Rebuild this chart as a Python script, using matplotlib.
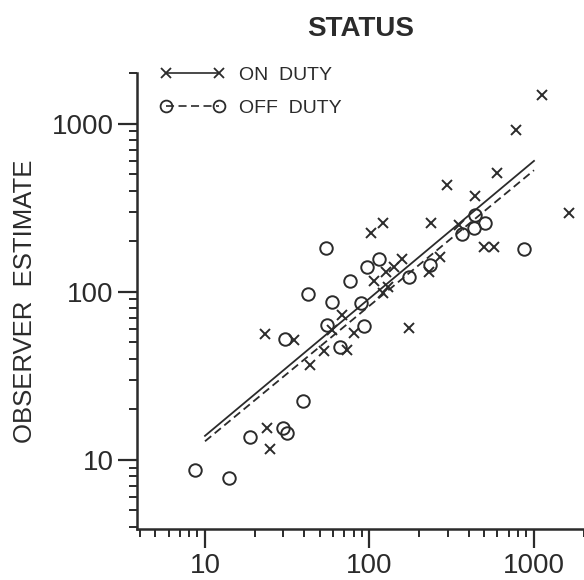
import numpy as np
import matplotlib
matplotlib.use("Agg")
import matplotlib.pyplot as plt
from matplotlib.ticker import LogLocator, FixedFormatter, FixedLocator, NullFormatter

plt.rcParams['font.family'] = ['Liberation Sans', 'DejaVu Sans']
plt.rcParams['lines.scale_dashes'] = False

INK = '#2b2b2b'

# on duty observations: (actual count, observer estimate)
on_x = [1114, 777, 598, 297, 438, 1632, 121, 102, 236, 351, 500, 575, 157, 140,
        126, 107, 268, 229, 130, 120, 175, 68, 80.5, 59.3, 23.2, 34.8, 52.8,
        72.7, 43.2, 23.7, 24.8]
on_y = [1472, 912, 510, 432, 373, 292, 255, 224, 258, 250, 185, 185, 156, 141,
        131, 116, 162, 131, 107, 98, 61, 72.6, 56.5, 59.1, 56.4, 51.6, 44.2,
        45, 36.9, 15.5, 11.6]

# off duty observations
off_x = [438, 504, 432, 364, 869, 54.2, 114, 95.9, 76.6, 175, 234, 42.1, 59.4,
         88.5, 55.5, 93.2, 30.5, 66.2, 39.4, 29.7, 31.4, 18.8, 8.7, 14.0]
off_y = [285, 255, 239, 220, 179, 181, 156, 141, 116, 122, 144, 96.8, 87.1,
         86.1, 63.6, 62.5, 52.1, 46.7, 22.4, 15.5, 14.4, 13.6, 8.7, 7.8]

# fitted log-log regression lines, evaluated at the ends of the fitted range
fit_x = [10, 1000]
on_fit = [13.9, 600]
off_fit = [12.9, 528]

major_ticks = [10, 100, 1000]
major_labels = ['10', '100', '1000']

fig = plt.figure(figsize=(5.84, 5.80), dpi=100)
ax = fig.add_axes([137 / 584, 1 - 529 / 580, (583.5 - 137) / 584, (529 - 73) / 580])

ax.plot(on_x, on_y, linestyle='none', marker='x', markersize=7.5,
        markeredgewidth=1.4, color=INK, clip_on=False)
ax.plot(off_x, off_y, linestyle='none', marker='o', markersize=9,
        markeredgewidth=1.4, markerfacecolor='none', color=INK, clip_on=False)
ax.plot(fit_x, on_fit, '-', color=INK, linewidth=1.3)
ax.plot(fit_x, off_fit, color=INK, linewidth=1.3, dashes=(5.8, 3.2))

ax.set_xscale('log')
ax.set_yscale('log')
ax.set_xlim(3.86, 2000)
ax.set_ylim(3.88, 2000)

for axis in (ax.xaxis, ax.yaxis):
    axis.set_major_locator(FixedLocator(major_ticks))
    axis.set_major_formatter(FixedFormatter(major_labels))
    axis.set_minor_locator(LogLocator(base=10, subs=np.arange(2, 10)))
    axis.set_minor_formatter(NullFormatter())

ax.tick_params(which='major', length=14, width=1.6, color=INK,
               labelsize=20, labelcolor=INK)
ax.tick_params(axis='x', which='major', pad=3.5)
ax.tick_params(axis='y', which='major', pad=3)
ax.tick_params(which='minor', length=6, width=1.4, color=INK)

for side in ('top', 'right'):
    ax.spines[side].set_visible(False)
for side in ('left', 'bottom'):
    ax.spines[side].set_linewidth(1.8)
    ax.spines[side].set_color(INK)

ax.set_ylabel('OBSERVER  ESTIMATE', fontsize=18.5, color=INK, labelpad=10.5)
ax.set_title('STATUS', fontsize=20, fontweight='bold', color=INK, pad=27)

handles = [
    plt.Line2D([], [], color=INK, linewidth=1.2, marker='x', markersize=7,
               markeredgewidth=1.3),
    plt.Line2D([], [], color=INK, linewidth=1.2, dashes=(5.8, 3.2), marker='o',
               markersize=8.5, markeredgewidth=1.3, markerfacecolor='none'),
]
ax.legend(handles, ['ON  DUTY', 'OFF  DUTY'], loc='upper left',
          bbox_to_anchor=(160 / 584, 1 - 66 / 580), bbox_transform=fig.transFigure,
          frameon=False, numpoints=2, fontsize=14, handlelength=3.35,
          handletextpad=0.7, labelspacing=0.82, borderpad=0, borderaxespad=0,
          labelcolor=INK)

fig.savefig('out.png', dpi=100)
